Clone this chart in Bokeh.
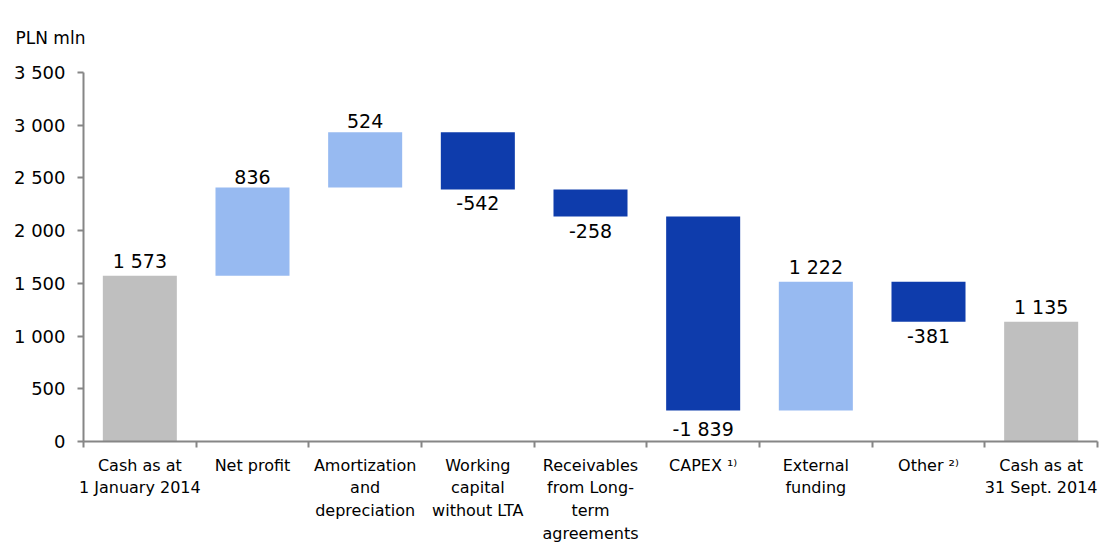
from bokeh.plotting import figure
from bokeh.models import FixedTicker, ColumnDataSource
from bokeh.embed import file_html
from bokeh.resources import INLINE
from bokeh.core.properties import value

categories = ["Cash as at\n1 January 2014", "Net profit", "Amortization\nand\ndepreciation",
              "Working\ncapital\nwithout LTA", "Receivables\nfrom Long-\nterm\nagreements",
              "CAPEX \u00b9\u207e", "External\nfunding", "Other \u00b2\u207e", "Cash as at\n31 Sept. 2014"]
values = [1573, 836, 524, -542, -258, -1839, 1222, -381, 1135]
kinds = ["total", "delta", "delta", "delta", "delta", "delta", "delta", "delta", "total"]
y_ticks = [0, 500, 1000, 1500, 2000, 2500, 3000, 3500]

GRAY = "#BFBFBF"
LIGHT = "#97BAF1"
DARK = "#0E3CAC"
FONT = "DejaVu Sans"

def fmt(v):
    s = f"{abs(v):,}".replace(",", " ")
    return ("-" if v < 0 else "") + s

xs, bottoms, tops, colors = [], [], [], []
running = 0
for i, (v, k) in enumerate(zip(values, kinds)):
    xs.append(i)
    if k == "total":
        bottoms.append(0); tops.append(v); colors.append(GRAY); running = v
    else:
        b = running; running += v
        bottoms.append(min(b, running)); tops.append(max(b, running))
        colors.append(LIGHT if v > 0 else DARK)

p = figure(width=1105, height=545, output_backend="svg", toolbar_location=None,
           x_range=(-0.5, 8.5), y_range=(0, 3500),
           min_border_left=83, min_border_right=8, min_border_top=72, min_border_bottom=10,
           title="PLN mln\n ")
p.title.align = "left"
p.title.offset = -68
p.title.standoff = 10
p.title.text_font = FONT
p.title.text_font_size = "17px"
p.title.text_font_style = "normal"
p.title.text_color = "#000000"
p.outline_line_color = None
p.xgrid.grid_line_color = None
p.ygrid.grid_line_color = None

src = ColumnDataSource(dict(x=xs, bottom=bottoms, top=tops, color=colors))
p.vbar(x="x", bottom="bottom", top="top", width=0.657, color="color", source=src, line_color=None)

pos_x = [x for x, v in zip(xs, values) if v >= 0]
pos_y = [t for t, v in zip(tops, values) if v >= 0]
pos_t = [fmt(v) for v in values if v >= 0]
neg_x = [x for x, v in zip(xs, values) if v < 0]
neg_y = [b for b, v in zip(bottoms, values) if v < 0]
neg_t = [fmt(v) for v in values if v < 0]
p.text(x=pos_x, y=pos_y, text=pos_t, text_align="center", text_baseline="bottom", y_offset=-4,
       text_font=value(FONT), text_font_size="19px", text_color="#000000")
p.text(x=neg_x, y=neg_y, text=neg_t, text_align="center", text_baseline="top", y_offset=7,
       text_font=value(FONT), text_font_size="19px", text_color="#000000")

AX = "#868686"
xa = p.xaxis[0]
xa.ticker = FixedTicker(ticks=list(range(len(categories))),
                        minor_ticks=[i - 0.5 for i in range(len(categories) + 1)])
xa.major_label_overrides = {i: c for i, c in enumerate(categories)}
xa.major_tick_line_color = None
xa.minor_tick_line_color = AX
xa.minor_tick_out = 6
xa.minor_tick_in = 0
xa.axis_line_color = AX
xa.axis_line_width = 2
xa.minor_tick_line_width = 2
xa.major_label_text_font = FONT
xa.major_label_text_font_size = "16px"
xa.major_label_text_color = "#000000"
xa.major_label_standoff = 8

ya = p.yaxis[0]
ya.ticker = FixedTicker(ticks=y_ticks)
ya.major_label_overrides = {t: fmt(t) for t in y_ticks}
ya.minor_tick_line_color = None
ya.major_tick_line_color = AX
ya.major_tick_out = 6
ya.major_tick_in = 0
ya.axis_line_color = AX
ya.axis_line_width = 2
ya.major_tick_line_width = 2
ya.major_label_text_font = FONT
ya.major_label_text_font_size = "18px"
ya.major_label_text_color = "#000000"
ya.major_label_standoff = 12

open("out.html", "w").write(file_html(p, INLINE))
